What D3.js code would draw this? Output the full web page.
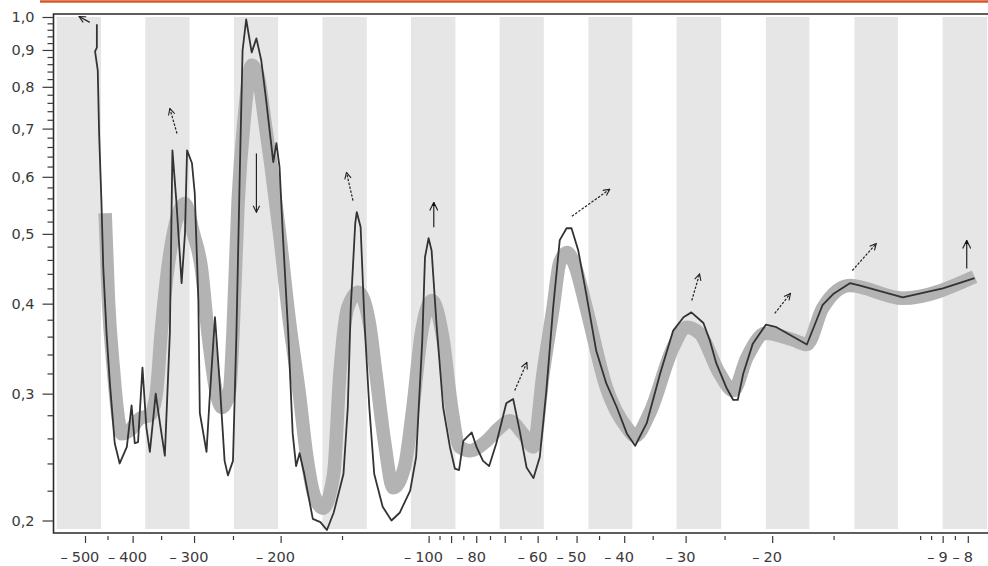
<!DOCTYPE html>
<html>
<head>
<meta charset="utf-8">
<script src="https://cdn.jsdelivr.net/npm/d3@7"></script>
<style>
  html, body { margin: 0; padding: 0; background: #fff; }
  svg { display: block; }
  .axis text { font-family: "DejaVu Sans", Verdana, sans-serif; font-size: 14.5px; fill: #3a3a3a; }
  .axis line { stroke: #3a3a3a; stroke-width: 1.2; }
  .axis path.domain { display: none; }
</style>
</head>
<body>
<svg class="chart" width="988" height="566"></svg>
<script>
"use strict";

// measured curve (thin black line)
var blackX = [
  -473, -473, -477, -471, -468, -463, -459, -452, -445, -435,
  -425, -411, -402, -396, -390, -382, -375, -369, -359, -352,
  -344, -336, -332, -326, -318, -313, -310, -303, -299, -294,
  -292, -283, -279, -272, -266, -260, -256, -250, -246, -242,
  -239, -235, -229, -224, -219, -214, -207, -204, -201, -198,
  -193, -189, -186, -183, -179, -172, -166, -161, -156, -149,
  -146, -144, -141, -140, -137.5, -135, -132, -129, -124, -119,
  -114.5, -109, -106, -103, -101.7, -100, -98.6, -96.4, -93.4, -90.5,
  -88.4, -86.7, -85, -81.7, -79.9, -77.5, -75.3, -72.8, -69.5, -67.3,
  -65.3, -63.2, -61.2, -59.4, -57.6, -55.8, -54.1, -52.4, -51.2, -49.6,
  -47.8, -45.6, -43.5, -41.4, -39.5, -38.0, -36.0, -33.8, -31.8, -30.3,
  -29.2, -27.6, -26.8, -26.0, -24.8, -24.0, -23.5, -22.9, -21.9, -20.6,
  -19.6, -17.0, -15.8, -15.0, -13.9, -13.3, -10.85, -8.99, -7.75
];
var blackY = [
  0.977, 0.907, 0.896, 0.843, 0.689, 0.556, 0.449, 0.364, 0.310, 0.256,
  0.240, 0.253, 0.289, 0.256, 0.257, 0.326, 0.269, 0.249, 0.300, 0.273,
  0.246, 0.364, 0.653, 0.556, 0.427, 0.501, 0.653, 0.627, 0.569, 0.404,
  0.282, 0.249, 0.294, 0.383, 0.310, 0.242, 0.231, 0.242, 0.364, 0.619,
  0.899, 0.992, 0.893, 0.934, 0.871, 0.766, 0.629, 0.668, 0.619, 0.501,
  0.364, 0.264, 0.238, 0.248, 0.232, 0.201, 0.199, 0.194, 0.205, 0.232,
  0.287, 0.395, 0.517, 0.536, 0.511, 0.376, 0.287, 0.232, 0.209, 0.200,
  0.205, 0.220, 0.245, 0.356, 0.464, 0.493, 0.474, 0.376, 0.287, 0.253,
  0.236, 0.235, 0.258, 0.265, 0.253, 0.242, 0.238, 0.256, 0.291, 0.295,
  0.267, 0.237, 0.229, 0.245, 0.303, 0.395, 0.490, 0.509, 0.509, 0.474,
  0.413, 0.344, 0.310, 0.287, 0.264, 0.254, 0.273, 0.320, 0.367, 0.383,
  0.389, 0.376, 0.356, 0.331, 0.306, 0.294, 0.294, 0.320, 0.352, 0.374,
  0.371, 0.351, 0.398, 0.413, 0.427, 0.424, 0.408, 0.420, 0.434
];

// smoothed curve (thick grey band)
var grayX = [
  -455, -448, -438, -428, -421, -405, -387, -369, -358, -350,
  -339, -326, -313, -301, -290, -281, -270, -263.5, -254, -250,
  -244, -237, -229, -222.5, -215.5, -209, -201, -192, -183, -177,
  -171, -164, -156, -151.5, -146, -139, -132, -128, -123, -118,
  -112, -107.6, -103.4, -98.5, -93.4, -89.8, -86.4, -82.3, -76.2, -71.7,
  -68.4, -64.3, -61.2, -58.5, -55.8, -54.1, -52.3, -50.4, -47.8, -43.5,
  -39.5, -38.0, -35.5, -31.8, -29.9, -28.1, -25.6, -24.0, -22.5, -20.6,
  -18.1, -17.0, -15.8, -13.9, -10.85, -7.75
];
var grayY = [
  0.534, 0.404, 0.326, 0.278, 0.264, 0.267, 0.277, 0.280, 0.300, 0.364,
  0.449, 0.522, 0.551, 0.501, 0.449, 0.364, 0.300, 0.287, 0.303, 0.364,
  0.556, 0.726, 0.857, 0.830, 0.719, 0.619, 0.501, 0.379, 0.298, 0.246,
  0.217, 0.208, 0.232, 0.320, 0.395, 0.415, 0.376, 0.320, 0.258, 0.222,
  0.237, 0.287, 0.364, 0.404, 0.356, 0.287, 0.253, 0.250, 0.258, 0.269,
  0.275, 0.264, 0.253, 0.320, 0.395, 0.456, 0.471, 0.452, 0.395, 0.306,
  0.269, 0.262, 0.282, 0.348, 0.371, 0.364, 0.320, 0.303, 0.337, 0.364,
  0.356, 0.351, 0.394, 0.424, 0.407, 0.436
];

// shaded columns
var bandStart = [-570.9, -377.0, -248.9, -164.4, -108.6, -71.7, -47.3, -31.3, -20.6, -13.6, -9.0];
var bandEnd   = [-463.9, -306.4, -202.3, -133.6, -88.2, -58.3, -38.5, -25.4, -16.8, -11.1, -7.31];

// arrows: from (x0, y0) to (x1, y1)
var arrowX0 = [-489, -325, -224, -142.5, -97.6, -51.1, -66.8, -29.15, -19.76, -13.74, -8.04];
var arrowY0 = [0.983, 0.689, 0.6465, 0.556, 0.5106, 0.529, 0.3031, 0.4041, 0.3877, 0.4447, 0.4476];
var arrowX1 = [-514, -336, -224, -146.9, -97.6, -42.8, -63.1, -28.1, -18.36, -12.28, -8.04];
var arrowY1 = [1.0016, 0.7465, 0.5357, 0.6086, 0.5528, 0.5766, 0.3315, 0.44, 0.4133, 0.4848, 0.4895];
var arrowKind = ['solid', 'dashed', 'solid', 'dashed', 'solid', 'dashed', 'dashed', 'dashed', 'dashed', 'dashed', 'solid'];

// ticks
var xMajorTicks = [-500, -400, -300, -200, -100, -90, -80, -70, -60, -50, -40, -30, -20, -9, -8];
var xLabelTicks = [-500, -400, -300, -200, -100, -80, -60, -50, -40, -30, -20, -9, -8];
var xMinorTicks = [-450, -350, -250, -150, -95, -85, -75, -65, -55, -45, -35, -25, -15, -10, -9.5, -8.5];
var yMajorTicks = [0.2, 0.3, 0.4, 0.5, 0.6, 0.7, 0.8, 0.9, 1.0];
var yMinorTicks = [0.22, 0.24, 0.26, 0.28, 0.32, 0.34, 0.36, 0.38, 0.42, 0.44, 0.46, 0.48,
  0.52, 0.54, 0.56, 0.58, 0.62, 0.64, 0.66, 0.68, 0.72, 0.74, 0.76, 0.78,
  0.82, 0.84, 0.86, 0.88, 0.92, 0.94, 0.96, 0.98];

var plot = {left: 53.5, right: 988, top: 14, bottom: 533, bandTop: 17, bandBottom: 529};

var x = d3.scaleLog().domain([-500, -8]).range([85, 967.8]);
var y = d3.scaleLog().domain([0.2, 1.0]).range([520.5, 17]);

function draw() {
  var svg = d3.select('.chart');
  var defs = svg.append('defs');

  defs.append('clipPath').attr('id', 'plot-clip')
    .append('rect')
    .attr('x', plot.left + 0.5).attr('y', plot.top)
    .attr('width', plot.right - plot.left).attr('height', plot.bottom - plot.top);

  var head = defs.append('marker')
    .attr('id', 'head')
    .attr('viewBox', '0 0 10 10')
    .attr('refX', 9).attr('refY', 5)
    .attr('markerWidth', 8).attr('markerHeight', 8)
    .attr('markerUnits', 'userSpaceOnUse')
    .attr('orient', 'auto');
  head.append('path')
    .attr('d', 'M1,1 L9,5 L1,9')
    .attr('fill', 'none').attr('stroke', '#222').attr('stroke-width', 1.4);

  var headFilled = defs.append('marker')
    .attr('id', 'head-filled')
    .attr('viewBox', '0 0 10 10')
    .attr('refX', 9).attr('refY', 5)
    .attr('markerWidth', 9).attr('markerHeight', 9)
    .attr('markerUnits', 'userSpaceOnUse')
    .attr('orient', 'auto');
  headFilled.append('path')
    .attr('d', 'M0,0.5 L9,5 L0,9.5')
    .attr('fill', 'none').attr('stroke', '#222').attr('stroke-width', 1.3);
  headFilled.append('path')
    .attr('d', 'M5,3 L10,5 L5,7 Z')
    .attr('fill', '#111');

  // orange rule across the top of the page
  svg.append('line')
    .attr('x1', 40).attr('x2', 988).attr('y1', 1.5).attr('y2', 1.5)
    .attr('stroke', '#d6572b').attr('stroke-width', 2.6);

  var body = svg.append('g').attr('clip-path', 'url(#plot-clip)');

  body.selectAll('.band')
    .data(d3.range(bandStart.length))
    .enter()
    .append('rect')
      .attr('class', 'band')
      .attr('x', function (i) { return x(bandStart[i]); })
      .attr('width', function (i) { return x(bandEnd[i]) - x(bandStart[i]); })
      .attr('y', plot.bandTop)
      .attr('height', plot.bandBottom - plot.bandTop)
      .attr('fill', '#e6e6e6');

  var grayData = grayX.map(function (v, i) { return [v, grayY[i]]; });
  var blackData = blackX.map(function (v, i) { return [v, blackY[i]]; });

  var smooth = d3.line()
    .x(function (d) { return x(d[0]); })
    .y(function (d) { return y(d[1]); })
    .curve(d3.curveMonotoneX);
  var straight = d3.line()
    .x(function (d) { return x(d[0]); })
    .y(function (d) { return y(d[1]); });

  body.append('path')
    .attr('d', smooth(grayData))
    .attr('fill', 'none')
    .attr('stroke', '#b3b3b3')
    .attr('stroke-width', 13.5)
    .attr('stroke-linejoin', 'round')
    .attr('stroke-linecap', 'butt');

  body.append('path')
    .attr('d', straight(blackData))
    .attr('fill', 'none')
    .attr('stroke', '#333')
    .attr('stroke-width', 1.8)
    .attr('stroke-linejoin', 'round');

  svg.append('g').selectAll('.arrow')
    .data(d3.range(arrowX0.length))
    .enter()
    .append('line')
      .attr('class', 'arrow')
      .attr('x1', function (i) { return x(arrowX0[i]); })
      .attr('y1', function (i) { return y(arrowY0[i]); })
      .attr('x2', function (i) { return x(arrowX1[i]); })
      .attr('y2', function (i) { return y(arrowY1[i]); })
      .attr('stroke', '#222')
      .attr('stroke-width', 1.2)
      .attr('stroke-dasharray', function (i) { return arrowKind[i] === 'dashed' ? '2.5,1.5' : null; })
      .attr('marker-end', function (i) {
        return (arrowKind[i] === 'solid' && arrowY1[i] < 0.99 && arrowY1[i] > arrowY0[i]) ? 'url(#head-filled)' : 'url(#head)';
      });

  // frame
  svg.append('path')
    .attr('d', 'M' + plot.right + ',' + plot.top + 'H' + plot.left + 'V' + plot.bottom + 'H' + plot.right)
    .attr('fill', 'none').attr('stroke', '#2a2a2a').attr('stroke-width', 1.6);

  // x axis
  var xAxis = d3.axisBottom(x)
    .tickValues(xMajorTicks)
    .tickSize(7)
    .tickPadding(9)
    .tickFormat(function (d) { return xLabelTicks.indexOf(d) >= 0 ? String(Math.abs(d)) : ''; });
  var gx = svg.append('g').attr('class', 'axis').attr('transform', 'translate(0,' + (plot.bottom + 3) + ')').call(xAxis);
  gx.selectAll('.tick').each(function (d) {
    if (xLabelTicks.indexOf(d) < 0) { return; }
    var t = d3.select(this).select('text');
    var w = t.node().getComputedTextLength();
    d3.select(this).append('text')
      .attr('x', -w / 2 - 4)
      .attr('y', t.attr('y'))
      .attr('dy', t.attr('dy'))
      .attr('text-anchor', 'end')
      .attr('fill', '#3a3a3a')
      .text('\u2013');
  });

  svg.append('g').attr('class', 'axis').attr('transform', 'translate(0,' + (plot.bottom + 3) + ')')
    .call(d3.axisBottom(x).tickValues(xMinorTicks).tickSize(4).tickFormat(''));

  // y axis
  var yAxis = d3.axisLeft(y)
    .tickValues(yMajorTicks)
    .tickSize(11)
    .tickPadding(8)
    .tickFormat(function (d) { return d3.format('.1f')(d).replace('.', ','); });
  svg.append('g').attr('class', 'axis').attr('transform', 'translate(' + plot.left + ',0)').call(yAxis);
  svg.append('g').attr('class', 'axis').attr('transform', 'translate(' + plot.left + ',0)')
    .call(d3.axisLeft(y).tickValues(yMinorTicks).tickSize(6).tickFormat(''));
}

draw();
</script>
</body>
</html>
